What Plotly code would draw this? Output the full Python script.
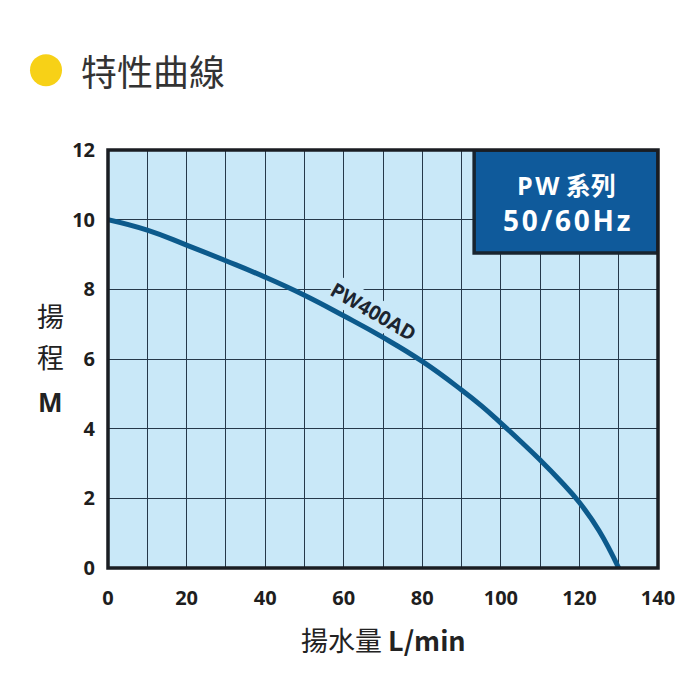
import plotly.graph_objects as go

# pump curve PW400AD
flow = [0, 10, 20, 30, 40, 50, 60, 70, 80, 90, 95, 100, 105, 110, 115, 120, 125, 130]
head = [10.0, 9.7, 9.27, 8.82, 8.35, 7.83, 7.24, 6.62, 5.93, 5.11, 4.66, 4.16, 3.64, 3.1, 2.52, 1.88, 1.07, 0.0]

x_ticks = [0, 20, 40, 60, 80, 100, 120, 140]
y_ticks = [0, 2, 4, 6, 8, 10, 12]

BG = "#c9e8f8"
GRID = "#25384a"
CURVE = "#0c5a8c"
BOX = "#0f5a9b"
FONT = "Open Sans, Noto Sans CJK TC, sans-serif"
CJK = "Noto Sans CJK TC, sans-serif"
HS = "\u200a"  # hair space, for the wide letter spacing in the box

fig = go.Figure()
fig.add_trace(go.Scatter(
    x=flow, y=head, mode="lines", line=dict(color=CURVE, width=5, shape="spline", smoothing=1.3),
    hoverinfo="x+y", showlegend=False,
))

# series box in the top right corner
fig.add_shape(type="rect", xref="x", yref="y", x0=93.2, x1=140, y0=9.04, y1=12,
              fillcolor=BOX, line=dict(color="#18242f", width=3.5), layer="above")
fig.add_annotation(x=116.8, y=11.0, xref="x", yref="y", text="<b>P" + HS + "W 系列</b>", showarrow=False,
                   font=dict(family=FONT, size=25, color="white"))
fig.add_annotation(x=116.8, y=9.98, xref="x", yref="y", text="<b>" + HS.join("50/60Hz") + "</b>",
                   showarrow=False, font=dict(family=FONT, size=28, color="white"))

# curve label, with a background patch that breaks the grid lines
fig.add_annotation(x=67.6, y=7.36, xref="x", yref="y", text="<b>PW400AD</b>", showarrow=False,
                   textangle=30, bgcolor=BG, borderpad=0,
                   font=dict(family=FONT, size=20, color="#1c2530"))

# frame
fig.add_shape(type="rect", xref="paper", yref="paper", x0=0, x1=1, y0=0, y1=1,
              line=dict(color="#1a1d22", width=3.5), layer="above")

# heading with yellow dot
fig.add_shape(type="circle", xref="paper", yref="paper", xsizemode="pixel", ysizemode="pixel",
              xanchor=-0.1127, yanchor=1.191, x0=-16, x1=16, y0=-16, y1=16,
              fillcolor="#f7d117", line=dict(width=0))
fig.add_annotation(x=-0.053, y=1.191, xref="paper", yref="paper", text="特性曲線", showarrow=False,
                   xanchor="left", yanchor="middle", font=dict(family=CJK, size=36, color="#333333"))

# axis titles
ytitle = dict(xref="paper", yref="paper", showarrow=False, xanchor="center", yanchor="middle")
fig.add_annotation(x=-0.105, y=0.605, text="揚", font=dict(family=CJK, size=27, color="#222222"), **ytitle)
fig.add_annotation(x=-0.105, y=0.507, text="程", font=dict(family=CJK, size=27, color="#222222"), **ytitle)
fig.add_annotation(x=-0.105, y=0.398, text="<b>M</b>", font=dict(family=FONT, size=26, color="#222222"), **ytitle)
fig.add_annotation(x=0.5, y=-0.172, xref="paper", yref="paper", xanchor="center", yanchor="middle",
                   text="揚水量 <b>L/min</b>", showarrow=False,
                   font=dict(family=CJK, size=27, color="#222222"))

fig.update_xaxes(range=[0, 140], tickvals=x_ticks, showgrid=False,
                 minor=dict(dtick=10, showgrid=True, gridcolor=GRID, gridwidth=1),
                 zeroline=False, ticks="", ticklabelstandoff=16,
                 tickfont=dict(family=FONT, size=20, color="#1e1e1e", weight="bold"))
fig.update_yaxes(range=[0, 12], tickvals=y_ticks, showgrid=True, gridcolor=GRID, gridwidth=1,
                 zeroline=False, ticks="", ticklabelstandoff=12,
                 tickfont=dict(family=FONT, size=20, color="#1e1e1e", weight="bold"))

fig.update_layout(
    width=700, height=700,
    margin=dict(l=100, r=50, t=142, b=140),
    plot_bgcolor=BG, paper_bgcolor="white",
)

fig.write_html("out.html")
